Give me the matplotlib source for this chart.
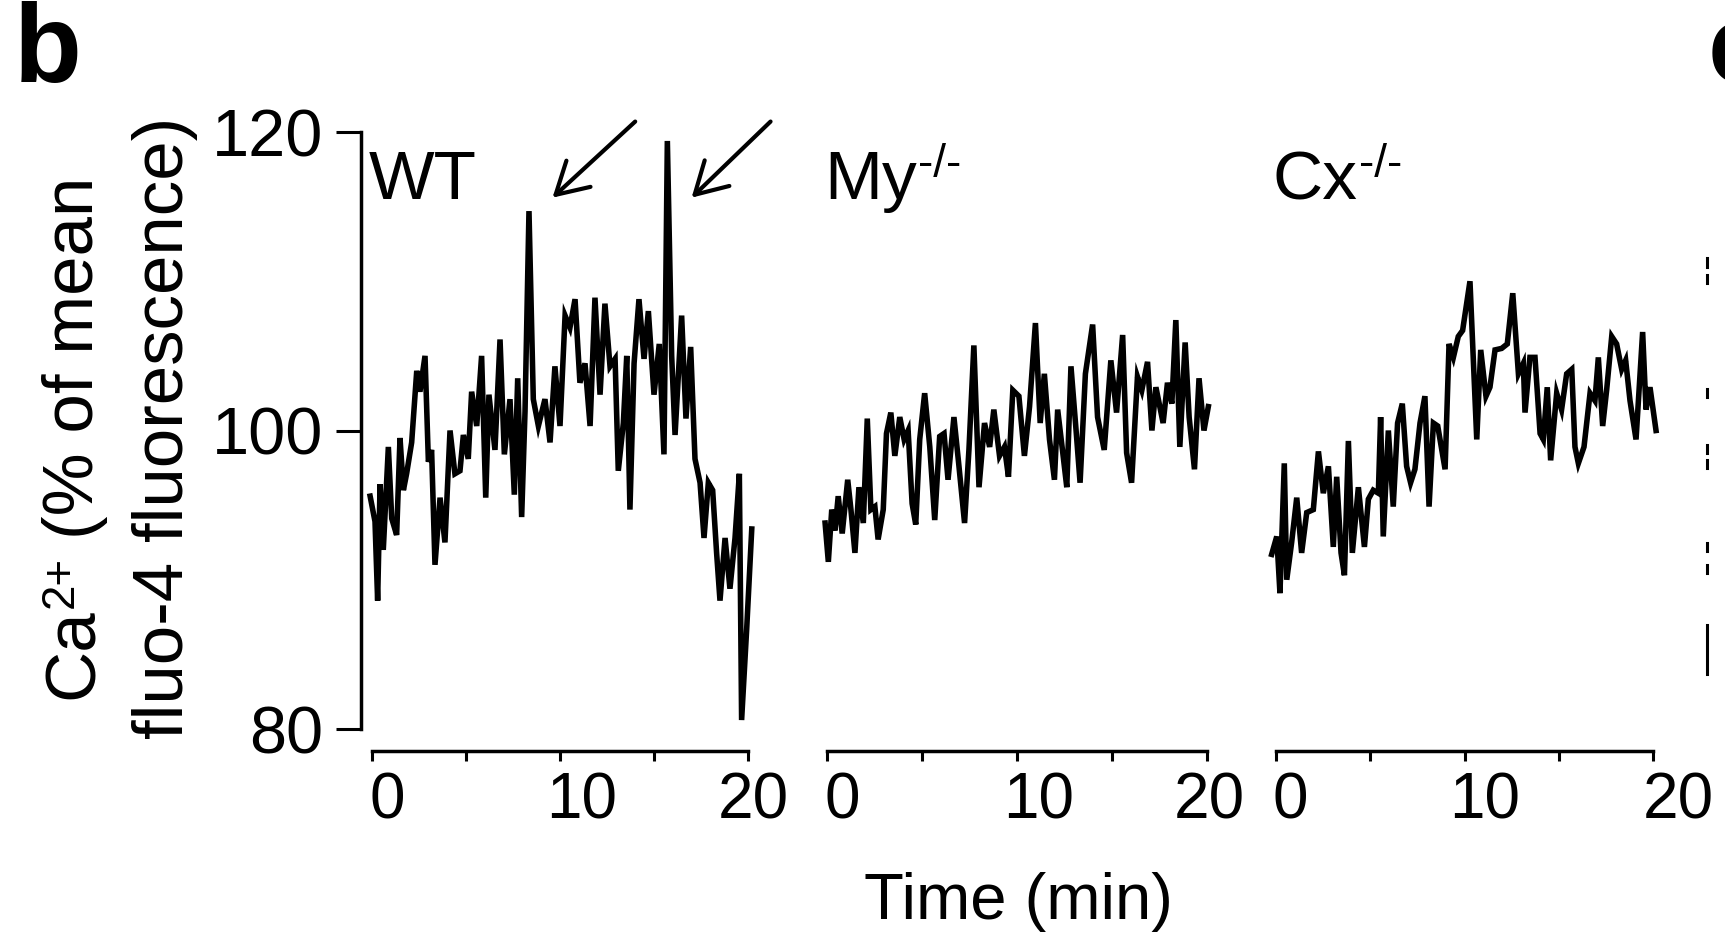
import matplotlib
matplotlib.use("Agg")
import matplotlib.pyplot as plt
from matplotlib.lines import Line2D
from matplotlib.transforms import ScaledTranslation

plt.rcParams['font.family'] = ['Liberation Sans', 'DejaVu Sans']

# traces: time (min) and Ca2+ (% of mean fluo-4 fluorescence)
wt_t = [-0.1, 0.16, 0.30, 0.43, 0.60, 0.87, 1.05, 1.31, 1.49, 1.67, 1.84, 2.11, 2.38, 2.55,
        2.82, 3.00, 3.17, 3.35, 3.62, 3.88, 4.15, 4.41, 4.68, 4.86, 5.12, 5.30, 5.57, 5.83,
        6.05, 6.22, 6.54, 6.81, 7.04, 7.34, 7.57, 7.75, 7.96, 8.14, 8.35, 8.58, 8.85, 9.20,
        9.47, 9.73, 10.0, 10.27, 10.53, 10.80, 11.06, 11.33, 11.60, 11.86, 12.13, 12.39,
        12.66, 12.93, 13.10, 13.37, 13.55, 13.72, 13.94, 14.20, 14.47, 14.70, 15.00, 15.28,
        15.53, 15.71, 15.94, 16.12, 16.47, 16.70, 16.95, 17.18, 17.45, 17.66, 17.89, 18.12,
        18.33, 18.51, 18.78, 19.04, 19.31, 19.54, 19.66, 19.93, 20.20]
wt_v = [95.6, 93.9, 88.6, 96.4, 92.0, 98.9, 94.1, 93.0, 99.5, 96.0, 97.1, 99.2, 104.0, 102.6,
        105.0, 97.9, 98.7, 91.0, 95.5, 92.5, 100.0, 97.1, 97.3, 99.7, 98.1, 102.6, 100.3, 105.0,
        95.5, 102.4, 98.7, 106.1, 98.4, 102.1, 95.7, 103.5, 94.2, 101.3, 114.7, 102.1, 100.3, 102.1,
        99.2, 104.3, 100.3, 107.7, 106.9, 108.8, 103.2, 104.5, 100.3, 108.9, 102.4, 108.5,
        104.3, 104.8, 97.3, 100.5, 105.0, 94.7, 104.5, 108.8, 104.8, 108.0, 102.4, 105.8,
        98.4, 119.4, 105.0, 99.7, 107.7, 100.8, 105.6, 98.1, 96.5, 92.8, 96.5, 96.0,
        91.8, 88.6, 92.8, 89.4, 92.8, 97.1, 80.6, 86.7, 93.4]

my_t = [-0.1, 0.07, 0.25, 0.42, 0.59, 0.80, 1.09, 1.26, 1.47, 1.68, 1.91, 2.12, 2.31, 2.52,
        2.69, 2.96, 3.13, 3.36, 3.57, 3.83, 4.06, 4.27, 4.48, 4.67, 4.88, 5.14, 5.41, 5.67,
        5.93, 6.16, 6.37, 6.68, 6.93, 7.24, 7.47, 7.73, 8.00, 8.29, 8.56, 8.78, 9.08, 9.34,
        9.55, 9.78, 10.10, 10.39, 10.66, 10.97, 11.22, 11.44, 11.71, 11.97, 12.14, 12.41,
        12.62, 12.84, 13.11, 13.32, 13.60, 13.98, 14.24, 14.59, 14.94, 15.24, 15.56, 15.77,
        16.03, 16.34, 16.57, 16.87, 17.10, 17.31, 17.69, 17.92, 18.15, 18.36, 18.57, 18.85,
        19.06, 19.34, 19.58, 19.84, 20.07]
my_v = [93.8, 91.2, 94.7, 93.3, 95.6, 93.1, 96.7, 94.7, 91.8, 96.2, 93.8, 100.8, 94.7, 94.9,
        92.7, 94.7, 99.8, 101.2, 98.3, 100.9, 99.4, 100.0, 95.1, 93.7, 99.4, 102.5, 98.9, 94.0,
        99.6, 99.8, 96.7, 100.9, 97.8, 93.8, 98.7, 105.7, 96.2, 100.5, 98.9, 101.4, 98.3, 98.9,
        96.9, 102.7, 102.3, 98.3, 101.6, 107.2, 100.5, 103.8, 99.4, 96.7, 101.4, 98.5,
        96.2, 104.3, 100.0, 96.5, 103.8, 107.1, 100.9, 98.7, 104.7, 101.2, 106.4, 98.5,
        96.5, 103.6, 102.7, 104.6, 100.0, 102.9, 100.5, 103.2, 101.8, 107.4, 98.9, 105.9,
        100.9, 97.4, 103.5, 100.0, 101.6]

cx_t = [-0.23, 0.04, 0.21, 0.44, 0.57, 0.83, 1.10, 1.36, 1.63, 1.98, 2.25, 2.51, 2.78, 3.04,
        3.22, 3.45, 3.63, 3.84, 4.05, 4.37, 4.69, 4.90, 5.16, 5.43, 5.55, 5.69, 5.96, 6.22,
        6.45, 6.70, 6.93, 7.14, 7.37, 7.64, 7.90, 8.12, 8.35, 8.58, 8.97, 9.18, 9.41, 9.67,
        9.90, 10.29, 10.65, 10.86, 11.14, 11.35, 11.62, 11.97, 12.27, 12.56, 12.86, 13.12,
        13.21, 13.47, 13.74, 14.01, 14.18, 14.39, 14.57, 14.89, 15.15, 15.42, 15.69, 15.86,
        16.04, 16.34, 16.66, 16.92, 17.10, 17.33, 17.54, 17.81, 18.07, 18.34, 18.55, 18.78,
        19.10, 19.45, 19.63, 19.84, 20.16]
cx_v = [91.7, 92.9, 89.1, 97.8, 90.0, 92.5, 95.5, 91.8, 94.5, 94.7, 98.6, 95.8, 97.6, 92.2,
        96.9, 91.8, 90.3, 99.3, 91.8, 96.2, 92.2, 95.4, 96.0, 95.8, 100.9, 92.9, 100.0, 94.9,
        100.5, 101.8, 97.6, 96.5, 97.4, 100.5, 102.3, 94.9, 100.5, 100.3, 97.4, 105.8, 104.9, 106.3,
        106.7, 110.0, 99.4, 105.4, 102.3, 102.9, 105.4, 105.5, 105.8, 109.2, 103.8, 104.5,
        101.2, 104.9, 104.9, 99.8, 99.4, 102.9, 98.0, 102.5, 101.4, 103.8, 104.1, 98.9,
        97.8, 98.9, 102.5, 102.0, 104.9, 100.3, 102.7, 106.3, 105.8, 104.1, 104.7, 102.0,
        99.4, 106.6, 101.4, 102.9, 100.0]

panel_names = ['WT', 'My', 'Cx']
panel_sups = ['', '-/-', '-/-']
x_ticks = [0, 5, 10, 15, 20]
x_ticklabels = ['0', '', '10', '', '20']
y_ticks = [80, 100, 120]

W, H = 1725, 940
fig = plt.figure(figsize=(W / 100, H / 100), dpi=100)

# pixel positions of t=0 and t=20 for each panel
zero_px = [372, 827, 1276]
twenty_px = [748, 1207, 1653]
top_px, bot_px = 132, 729
xlo, xhi = -0.6, 20.4

traces = [(wt_t, wt_v), (my_t, my_v), (cx_t, cx_v)]
label_shift = [[15, 0, 22, 0, 5], [15, 0, 22, 0, 2], [14, 0, 20, 0, 25]]
axes = []
for i, (tt, vv) in enumerate(traces):
    s = (twenty_px[i] - zero_px[i]) / 20.0
    left = zero_px[i] + xlo * s
    right = zero_px[i] + xhi * s
    ax = fig.add_axes([left / W, 1 - bot_px / H, (right - left) / W, (bot_px - top_px) / H])
    ax.plot(tt, vv, color='black', lw=4.0, solid_joinstyle='miter', clip_on=False)
    ax.set_xlim(xlo, xhi)
    ax.set_ylim(80, 120)
    ax.patch.set_visible(False)
    for sp in ['top', 'right']:
        ax.spines[sp].set_visible(False)
    ax.spines['bottom'].set_position(('outward', 16))
    ax.spines['bottom'].set_bounds(0, 20)
    ax.spines['bottom'].set_linewidth(2.5)
    ax.set_xticks(x_ticks)
    ax.set_xticklabels(x_ticklabels)
    ax.tick_params(axis='x', direction='out', length=7.5, width=2.2, pad=7, labelsize=46)
    for lab, dx in zip(ax.get_xticklabels(), label_shift[i]):
        lab.set_transform(lab.get_transform() + ScaledTranslation(dx / 100, 0, fig.dpi_scale_trans))
    if i == 0:
        ax.spines['left'].set_linewidth(2.5)
        ax.set_yticks(y_ticks)
        ax.tick_params(axis='y', direction='out', length=18, width=2.2, pad=9, labelsize=48)
    else:
        ax.spines['left'].set_visible(False)
        ax.set_yticks([])
    name = ax.text((zero_px[i] - 3 - left) / (right - left), (bot_px - 199) / (bot_px - top_px),
                   panel_names[i], transform=ax.transAxes, fontsize=50, va='baseline', ha='left')
    if panel_sups[i]:
        ax.annotate(panel_sups[i], xy=(1, 1), xycoords=name, xytext=(1, 4),
                    textcoords='offset points', ha='left', va='top', fontsize=33,
                    annotation_clip=False)
    axes.append(ax)

# arrows pointing at the two WT spikes
arrow_kw = dict(arrowstyle='->,head_length=0.7,head_width=0.4', lw=3.0, color='black',
                mutation_scale=32, shrinkA=0, shrinkB=0)
axes[0].annotate('', xy=(9.6, 115.6), xytext=(14.0, 120.7), arrowprops=arrow_kw,
                 annotation_clip=False)
axes[0].annotate('', xy=(17.0, 115.6), xytext=(21.2, 120.7), arrowprops=arrow_kw,
                 annotation_clip=False)

# y label, first line built from pieces so the superscript sits like in the figure
ca = fig.text(75 / W, 1 - 699 / H, 'Ca', rotation=90, fontsize=51, ha='center', va='bottom')
sup = axes[0].annotate('2+', xy=(0, 1), xycoords=ca, xytext=(-2, 0), textcoords='offset points',
                       rotation=90, ha='left', va='bottom', fontsize=33, annotation_clip=False)
axes[0].annotate('(% of mean', xy=(1, 1), xycoords=(ca, sup), xytext=(0, 12),
                 textcoords='offset points', rotation=90, ha='right',
                 va='bottom', fontsize=51, annotation_clip=False)
fig.text(165 / W, 1 - 428 / H, 'fluo-4 fluorescence)', rotation=90, fontsize=51,
         ha='center', va='center')
fig.text(1018 / W, 1 - 902 / H, 'Time (min)', fontsize=47, ha='center', va='center')

# panel letters
fig.text(14 / W, 1 - 82 / H, 'b', fontsize=80, fontweight='bold', va='baseline', ha='left')
fig.text(1708 / W, 1 - 82 / H, 'c', fontsize=80, fontweight='bold', va='baseline', ha='left')

# edge of the neighbouring panel, cut off at the right border
for y0, y1 in [(258, 267), (275, 283), (389, 397), (445, 453), (460, 468), (543, 551),
               (565, 573), (625, 674)]:
    fig.add_artist(Line2D([1707 / W, 1707 / W], [1 - y0 / H, 1 - y1 / H], color='black',
                          lw=2.2, transform=fig.transFigure))

fig.savefig('out.png', dpi=100, facecolor='white')
